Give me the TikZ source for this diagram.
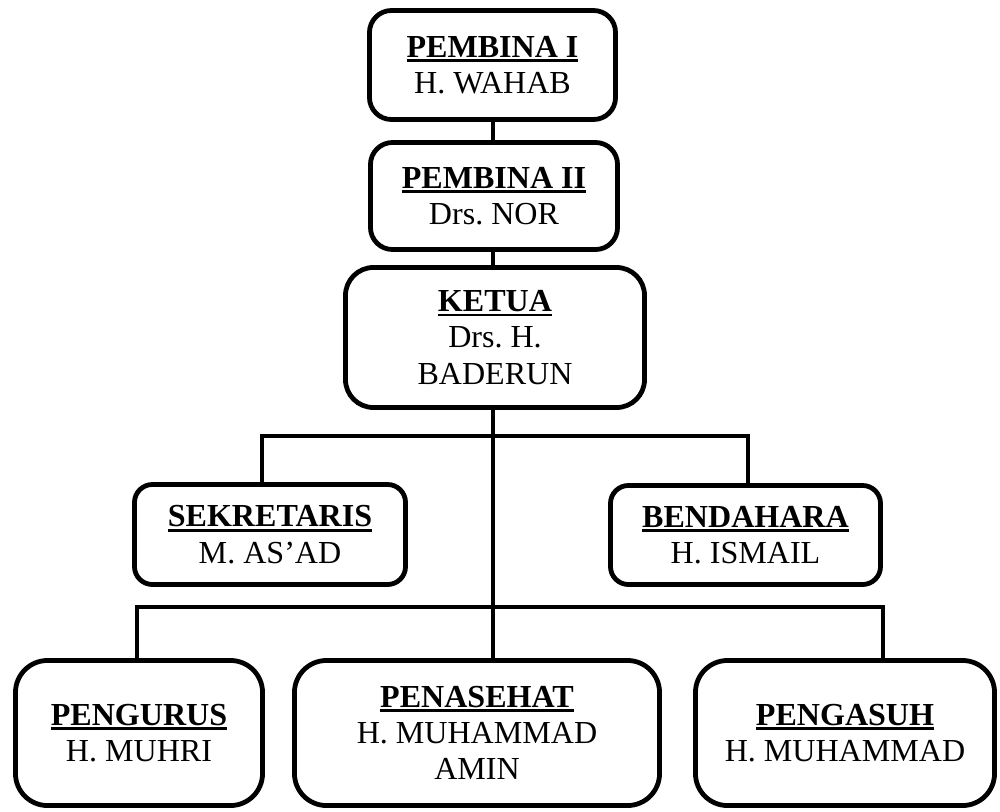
\documentclass[tikz,border=0pt]{standalone}
\usepackage{fontspec}
\setmainfont{Liberation Serif}
\newsavebox{\judulbox}
\newcommand{\judul}[1]{\sbox{\judulbox}{\textbf{#1}}\leavevmode\rlap{\rule[-3.4pt]{\wd\judulbox}{1.9pt}}\usebox{\judulbox}}
\tikzset{
    jabatan/.style={draw, line width=3.4pt, rounded corners=#1, align=center, inner sep=0pt,
        font=\fontsize{22.8}{25.8}\selectfont\frenchspacing},
    jabatan/.default=0.55cm,
    garis/.style={line width=3.4pt},
}
\begin{document}
\begin{tikzpicture}[x=0.025cm, y=-0.025cm]
    \useasboundingbox (0,0) rectangle (1000,811);
    \node[jabatan, minimum width=6.15cm, minimum height=2.725cm] (pembinaA) at (492.5,65) {\judul{PEMBINA I}\\H. WAHAB};
    \node[jabatan, minimum width=6.175cm, minimum height=2.675cm] (pembinaB) at (494,196) {\judul{PEMBINA II}\\Drs. NOR};
    \node[jabatan=0.7cm, minimum width=7.475cm, minimum height=3.5cm] (ketua) at (495,337.5) {\judul{KETUA}\\Drs. H.\\BADERUN};
    \node[jabatan=0.45cm, minimum width=6.775cm, minimum height=2.5cm] (sekretaris) at (270,534.5) {\judul{SEKRETARIS}\\M. AS'AD};
    \node[jabatan=0.45cm, minimum width=6.75cm, minimum height=2.475cm] (bendahara) at (745.5,535) {\judul{BENDAHARA}\\H. ISMAIL};
    \node[jabatan=0.8cm, minimum width=6.175cm, minimum height=3.625cm] (pengurus) at (139,733) {\judul{PENGURUS}\\H. MUHRI};
    \node[jabatan=0.8cm, minimum width=9.125cm, minimum height=3.625cm] (penasehat) at (477,733) {\judul{PENASEHAT}\\H. MUHAMMAD\\AMIN};
    \node[jabatan=0.8cm, minimum width=7.475cm, minimum height=3.625cm] (pengasuh) at (845,733) {\judul{PENGASUH}\\H. MUHAMMAD};
    \coordinate (busA) at (493,436);
    \coordinate (busB) at (493,607);
    \draw[garis] (pembinaA.south -| busA) -- (pembinaB.north -| busA);
    \draw[garis] (pembinaB.south -| busA) -- (ketua.north -| busA);
    \draw[garis] (ketua.south -| busA) -- (penasehat.north -| busA);
    \draw[garis] (sekretaris.north -| 262,0) |- (busA) -| (bendahara.north -| 748,0);
    \draw[garis] (pengurus.north -| 137,0) |- (busB) -| (pengasuh.north -| 883,0);
\end{tikzpicture}
\end{document}
